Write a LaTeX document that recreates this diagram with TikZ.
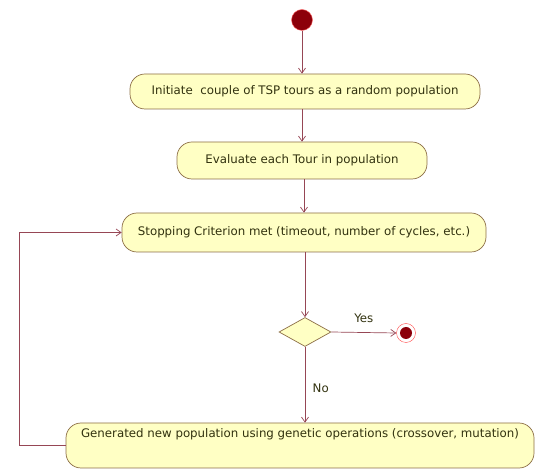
\documentclass[tikz,border=0pt]{standalone}
\usepackage{fontspec}
\setmainfont{DejaVu Sans}
\usetikzlibrary{shapes.geometric,arrows.meta}
\definecolor{boxfill}{RGB}{255,255,196}
\definecolor{boxline}{RGB}{140,110,70}
\definecolor{flowline}{RGB}{150,70,85}
\definecolor{dotred}{RGB}{140,0,10}
\definecolor{textcol}{RGB}{50,50,15}
\begin{document}
\begin{tikzpicture}[x=1pt,y=-1pt,
    font=\fontsize{11.8}{13}\selectfont,
    act/.style={draw=boxline,fill=boxfill,rounded corners=15pt,inner sep=0pt,
      text=textcol,line width=0.7pt},
    flow/.style={draw=flowline,line width=0.7pt,-{Straight Barb[length=5pt,width=7pt]}}]
  \useasboundingbox (0,0) rectangle (539,470);
  \draw
    (302,20) node[circle,fill=dotred,draw=red!60,minimum size=21pt,inner sep=0pt] (start){}
    (305,91.5) node[act,minimum width=350pt,minimum height=35pt] (init){Initiate\ \ couple of TSP tours as a random population}
    (302,160.5) node[act,minimum width=250pt,minimum height=37pt] (eval){Evaluate each Tour in population}
    (304,232.5) node[act,minimum width=364pt,minimum height=39pt] (stop){Stopping Criterion met (timeout, number of cycles, etc.)}
    (305,332) node[diamond,draw=boxline,fill=boxfill,minimum width=52pt,minimum height=29pt,inner sep=0pt,line width=0.7pt] (dec){}
    (406,333) node[circle,draw=red!70,fill=white,minimum size=19pt,inner sep=0pt,
      path picture={\fill[dotred] (path picture bounding box.center) circle (6pt);}] (end){}
    (300,445.5) node[act,minimum width=468pt,text height=15pt,text depth=30pt] (gen){Generated new population using genetic operations (crossover, mutation)};
  \coordinate (back) at (19,445.5);
  \begin{scope}[flow]
    \draw (start) to (start |- init.north);
    \draw (init.south -| start) to (start |- eval.north);
    \draw (eval.south -| stop) to (stop.north);
    \draw (stop.south -| dec) to (dec.north);
    \draw (dec.east) to node[above=6pt,text=textcol]{Yes} (end.west);
    \draw (dec.south) to node[pos=0.55,right=4pt,text=textcol]{No} (dec |- gen.north);
    \draw (gen.west) -- (back) |- (stop.west);
  \end{scope}
\end{tikzpicture}
\end{document}
